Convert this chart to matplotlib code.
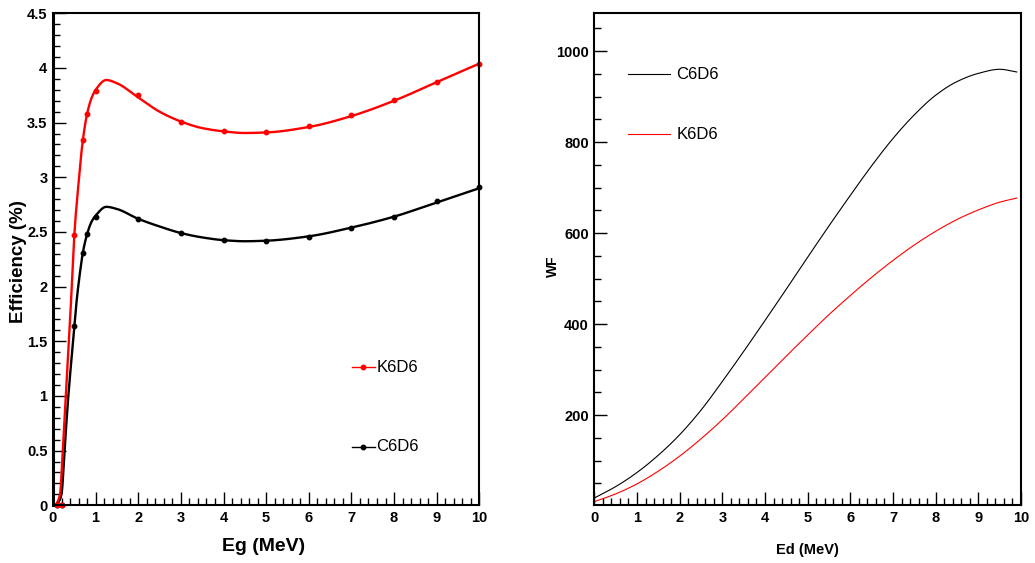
import numpy as np
import matplotlib
matplotlib.use("Agg")
import matplotlib.pyplot as plt
from matplotlib.ticker import MultipleLocator

plt.rcParams['font.family'] = ['Liberation Sans', 'DejaVu Sans']

# measured efficiency points (Eg in MeV, efficiency in %)
eg_points = [0.1, 0.2, 0.5, 0.7, 0.8, 1, 2, 3, 4, 5, 6, 7, 8, 9, 10]
k6d6_points = [0.0, 0.0, 2.47, 3.34, 3.58, 3.79, 3.75, 3.51, 3.42, 3.41, 3.47, 3.57, 3.71, 3.87, 4.04]
c6d6_points = [0.0, 0.0, 1.64, 2.31, 2.48, 2.64, 2.62, 2.49, 2.43, 2.42, 2.45, 2.54, 2.64, 2.78, 2.91]

# fitted efficiency curves
k6d6_fit_x = [0.07, 0.165, 0.23, 0.30, 0.375, 0.44, 0.5, 0.6, 0.7, 0.8, 0.9, 1.0, 1.25, 1.5,
              2, 2.5, 3, 3.5, 4, 4.5, 5, 6, 7, 8, 9, 10]
k6d6_fit_y = [0.0, 0.1, 0.5, 1.0, 1.5, 2.0, 2.47, 2.95, 3.34, 3.58, 3.72, 3.80, 3.89, 3.86,
              3.73, 3.60, 3.51, 3.45, 3.42, 3.405, 3.41, 3.46, 3.56, 3.70, 3.87, 4.04]
c6d6_fit_x = [0.09, 0.2, 0.27, 0.36, 0.47, 0.5, 0.56, 0.63, 0.7, 0.8, 0.9, 1.0, 1.25, 1.5,
              2, 2.5, 3, 3.5, 4, 4.5, 5, 6, 7, 8, 9, 10]
c6d6_fit_y = [0.0, 0.1, 0.5, 1.0, 1.5, 1.64, 1.89, 2.12, 2.31, 2.48, 2.59, 2.65, 2.73, 2.71,
              2.62, 2.55, 2.49, 2.45, 2.425, 2.415, 2.42, 2.46, 2.54, 2.64, 2.77, 2.90]

# weighting functions vs deposited energy
ed = [0, 0.5, 1, 1.5, 2, 2.5, 3, 3.5, 4, 4.5, 5, 5.5, 6, 6.5, 7, 7.5, 8, 8.5, 9, 9.5, 9.9]
wf_c6d6 = [18, 43, 74, 112, 157, 211, 274, 340, 408, 477, 547, 616, 683, 748, 808, 860, 903, 933, 951, 960, 954]
wf_k6d6 = [10, 27, 49, 77, 110, 148, 190, 236, 283, 330, 376, 421, 463, 503, 540, 574, 604, 630, 651, 668, 677]


def pchip(x, y, n=600):
    """monotone cubic (Fritsch-Carlson) for drawing a smooth curve through the knots"""
    x = np.asarray(x, float)
    y = np.asarray(y, float)
    h = np.diff(x)
    d = np.diff(y) / h
    m = np.zeros_like(y)
    for k in range(1, len(x) - 1):
        if d[k - 1] * d[k] > 0:
            w1 = 2 * h[k] + h[k - 1]
            w2 = h[k] + 2 * h[k - 1]
            m[k] = (w1 + w2) / (w1 / d[k - 1] + w2 / d[k])
    m[0], m[-1] = d[0], d[-1]
    xs = np.linspace(x[0], x[-1], n)
    i = np.clip(np.searchsorted(x, xs) - 1, 0, len(h) - 1)
    t = (xs - x[i]) / h[i]
    h00 = 2 * t**3 - 3 * t**2 + 1
    h10 = t**3 - 2 * t**2 + t
    h01 = -2 * t**3 + 3 * t**2
    h11 = t**3 - t**2
    ys = h00 * y[i] + h10 * h[i] * m[i] + h01 * y[i + 1] + h11 * h[i] * m[i + 1]
    return xs, ys


def root_style(ax, lw_left=1.5):
    for side in ('top', 'right', 'bottom'):
        ax.spines[side].set_linewidth(1.5)
    ax.spines['left'].set_linewidth(lw_left)
    ax.tick_params(which='both', direction='in', top=False, right=False,
                   labelsize=10.5, width=1.0, color='black')
    ax.tick_params(which='major', length=9.5, pad=4)
    ax.tick_params(which='minor', length=5)
    for lab in ax.get_xticklabels() + ax.get_yticklabels():
        lab.set_fontweight('bold')


fig = plt.figure(figsize=(10.35, 5.63), dpi=100)
ax1 = fig.add_axes([0.0512, 0.1025, 0.4119, 0.8739])
ax2 = fig.add_axes([0.5742, 0.1025, 0.4123, 0.8739])

# --- efficiency ---
xs, ys = pchip(c6d6_fit_x, c6d6_fit_y)
ax1.plot(xs, ys, color='black', lw=1.7)
xs, ys = pchip(k6d6_fit_x, k6d6_fit_y)
ax1.plot(xs, ys, color='red', lw=1.7)
ax1.plot(eg_points, c6d6_points, 'o', color='black', ms=3.2, clip_on=False)
ax1.plot(eg_points, k6d6_points, 'o', color='red', ms=3.2, clip_on=False)

ax1.set_xlim(0, 10)
ax1.set_ylim(0, 4.5)
ax1.xaxis.set_major_locator(MultipleLocator(1))
ax1.xaxis.set_minor_locator(MultipleLocator(0.2))
ax1.yaxis.set_major_locator(MultipleLocator(0.5))
ax1.yaxis.set_minor_locator(MultipleLocator(0.1))
ax1.set_yticks(np.arange(0, 4.51, 0.5))
ax1.set_yticklabels(['0', '0.5', '1', '1.5', '2', '2.5', '3', '3.5', '4', '4.5'])
root_style(ax1, lw_left=2.2)

fig.text(0.0175, 0.536, 'Efficiency (%)', rotation=90, fontsize=13.5, fontweight='bold',
         ha='center', va='center')
fig.text(0.255, 0.030, 'Eg (MeV)', fontsize=14, fontweight='bold', ha='center', va='center')

for name, color, yy in (('K6D6', 'red', 0.2805), ('C6D6', 'black', 0.119)):
    ax1.plot([0.702, 0.755], [yy, yy], color=color, lw=1.0, transform=ax1.transAxes, clip_on=False)
    ax1.plot([0.728], [yy], 'o', color=color, ms=3.2, transform=ax1.transAxes, clip_on=False)
    ax1.text(0.759, yy, name, fontsize=12, transform=ax1.transAxes, ha='left', va='center')

# --- weighting function ---
xs, ys = pchip(ed, wf_c6d6)
ax2.plot(xs, ys, color='black', lw=0.8)
xs, ys = pchip(ed, wf_k6d6)
ax2.plot(xs, ys, color='red', lw=0.8)

ax2.set_xlim(0, 10)
ax2.set_ylim(2, 1083)
ax2.xaxis.set_major_locator(MultipleLocator(1))
ax2.xaxis.set_minor_locator(MultipleLocator(0.2))
ax2.yaxis.set_major_locator(MultipleLocator(200))
ax2.yaxis.set_minor_locator(MultipleLocator(50))
root_style(ax2)

fig.text(0.5345, 0.527, 'WF', rotation=90, fontsize=10, fontweight='bold', ha='center', va='center')
fig.text(0.780, 0.023, 'Ed (MeV)', fontsize=10.5, fontweight='bold', ha='center', va='center')

for name, color, yy in (('C6D6', 'black', 0.8766), ('K6D6', 'red', 0.754)):
    ax2.plot([0.0797, 0.1774], [yy, yy], color=color, lw=0.8, transform=ax2.transAxes)
    ax2.text(0.192, yy, name, fontsize=12, transform=ax2.transAxes, ha='left', va='center')

fig.savefig('out.png', dpi=100)
